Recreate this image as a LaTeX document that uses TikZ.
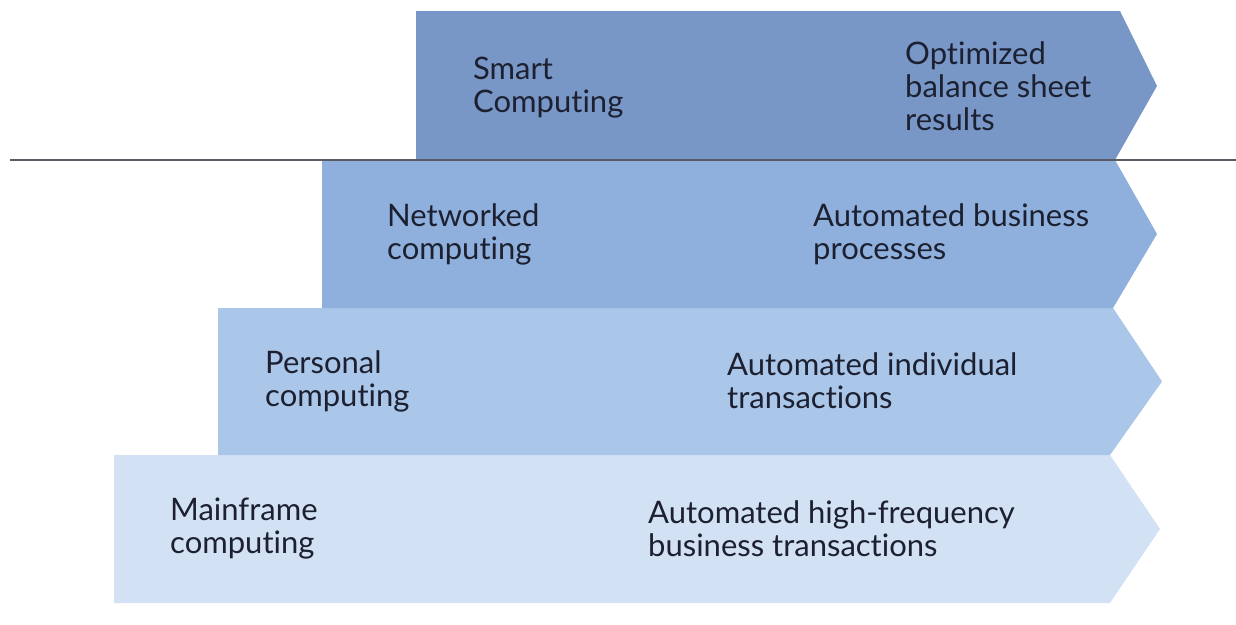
\documentclass[tikz,border=0pt]{standalone}
\usepackage{fontspec}
\setmainfont{Lato}[Ligatures=NoCommon]
\usetikzlibrary{positioning, math}
\definecolor{smartblue}{RGB}{120,151,199}
\definecolor{netblue}{RGB}{143,176,220}
\definecolor{persblue}{RGB}{170,198,232}
\definecolor{mainblue}{RGB}{210,226,244}
\definecolor{txtnavy}{RGB}{28,32,48}
\definecolor{rulegray}{RGB}{90,92,100}

\begin{document}
\begin{tikzpicture}[x=1pt, y=-1pt,
  band/.style={draw=none},
  lbl/.style={anchor=west, align=left, inner sep=0pt, text=txtnavy,
    font=\fontsize{31}{33}\selectfont}]
\useasboundingbox (0,0) rectangle (1236,624);
\tikzmath{
\xb=1115;
\xt=1160;
}

% bands, back to front
\fill[band, mainblue] (114,455) -- (\xb-5,455) -- (\xt,529) -- (\xb-5,603) -- (114,603) -- cycle;
\fill[band, persblue] (218,308) -- (\xb-2,308) -- (\xt+2,381.5) -- (\xb-5,455) -- (218,455) -- cycle;
\fill[band, netblue] (322,160) -- (\xb,160) -- (\xt-3,234) -- (\xb-2,308) -- (322,308) -- cycle;
\fill[band, smartblue] (416,11) -- (\xb+5,11) -- (\xt-3,86) -- (\xb,160) -- (416,160) -- cycle;

% separating rule
\coordinate (ruleL) at (10,160);
\coordinate (ruleR) at (1236,160);
\draw[rulegray, line width=1.2pt] (ruleL) -- (ruleR);

% left labels
\node[lbl] (smart) at (473,88) {Smart\\Computing};
\node[lbl] (net) at (387,234) {Networked\\computing};
\node[lbl] (pers) at (265,381) {Personal\\computing};
\node[lbl] (main) at (170,529) {Mainframe\\computing};

% right labels
\node[lbl] (smartR) at (905,86) {Optimized\\balance sheet\\results};
\node[lbl] (netR) at (813,234) {Automated business\\processes};
\node[lbl] (persR) at (727,381) {Automated individual\\transactions};
\node[lbl] (mainR) at (648,529) {Automated high-frequency\\business transactions};
\end{tikzpicture}
\end{document}
